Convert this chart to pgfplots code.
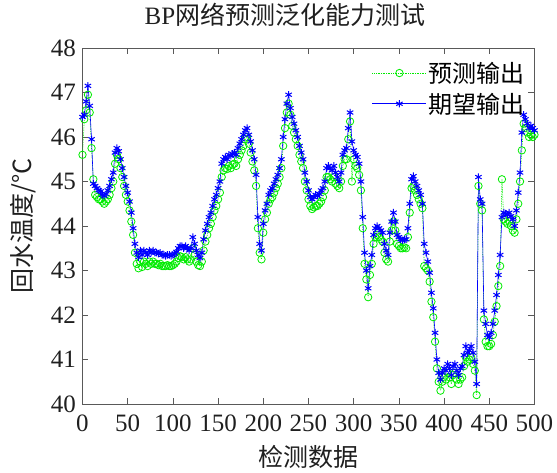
\documentclass[border=0pt]{standalone}
\usepackage{fontspec}
\setmainfont{Liberation Serif}
\newfontfamily\cjk{Noto Sans CJK SC}
\usepackage{pgfplots}
\pgfplotsset{compat=1.18}
\definecolor{predcol}{RGB}{0,235,0}
\definecolor{realcol}{RGB}{0,0,255}
\pgfplotsset{
  predleg/.style={legend image code/.code={%
    \draw[predcol, densely dotted, line width=0.7pt, mark=o, mark size=3.7pt,
          mark options={solid, line width=0.8pt, draw=predcol}, mark repeat=2, mark phase=2]
        plot coordinates {(0pt,0pt) (27pt,0pt) (54pt,0pt)};}},
  realleg/.style={legend image code/.code={%
    \draw[realcol, line width=0.6pt, mark=asterisk, mark size=3.7pt,
          mark options={line width=1pt, draw=realcol}, mark repeat=2, mark phase=2]
        plot coordinates {(0pt,0pt) (27pt,0pt) (54pt,0pt)};}}}
\begin{document}
\begin{tikzpicture}
\begin{axis}[
    scale only axis, width=452pt, height=356pt,
    xmin=0, xmax=500, ymin=40, ymax=48,
    xtick={0,50,...,500}, ytick={40,41,...,48},
    tick align=inside, major tick length=6pt,
    axis line style={black!65}, tick style={black!65, line width=0.6pt},
    every tick label/.append style={font=\fontsize{25}{28}\selectfont, text=black!88},
    xticklabel style={yshift=-7pt},
    yticklabel style={xshift=-3pt},
    /pgf/number format/assume math mode=true,
    title={BP{\cjk 网络预测泛化能力测试}},
    title style={font=\fontsize{25}{28}\selectfont, text=black!88,
                 at={(axis description cs:0.448,1.077)}, anchor=center},
    xlabel={\cjk 检测数据}, ylabel={\cjk 回水温度/°C},
    label style={font=\fontsize{25}{28}\selectfont, text=black!88},
    xlabel style={at={(axis description cs:0.5,-0.148)}, anchor=center},
    ylabel style={at={(axis description cs:-0.132,0.5)}, anchor=center},
    legend style={draw=none, fill=none, at={(0.99,0.972)}, anchor=north east,
                  font=\cjk\fontsize{24}{27}\selectfont, row sep=5pt},
    legend cell align=left,
]
\addplot[predcol, densely dotted, line width=0.7pt, mark=o, mark size=3.7pt,
    mark options={solid, line width=0.8pt}, predleg]
coordinates {
(0,45.6)(2,46.4)(4,46.6)(6,46.95)(8,46.55)(10,45.75)(12,45.05)(14,44.7)(16,44.65)(18,44.6)
(20,44.6)(22,44.55)(24,44.5)(26,44.55)(28,44.6)(30,44.7)(32,44.85)(34,45.0)(36,45.4)(38,45.6)
(40,45.5)(42,45.3)(44,45.1)(46,44.9)(48,44.7)(50,44.55)(52,44.35)(54,44.1)(56,43.8)(58,43.4)
(60,43.15)(62,43.05)(64,43.2)(66,43.08)(68,43.2)(70,43.15)(72,43.1)(74,43.2)(76,43.15)(78,43.2)
(80,43.15)(82,43.15)(84,43.12)(86,43.15)(88,43.1)(90,43.1)(92,43.1)(94,43.12)(96,43.1)(98,43.1)
(100,43.12)(102,43.15)(104,43.2)(106,43.28)(108,43.32)(110,43.3)(112,43.25)(114,43.3)(116,43.25)(118,43.2)
(120,43.25)(122,43.5)(124,43.35)(126,43.2)(128,43.12)(130,43.1)(132,43.2)(134,43.45)(136,43.65)(138,43.8)
(140,43.95)(142,44.05)(144,44.2)(146,44.35)(148,44.45)(150,44.6)(152,44.75)(154,45.1)(156,45.25)(158,45.3)
(160,45.28)(162,45.35)(164,45.3)(166,45.38)(168,45.4)(170,45.35)(172,45.5)(174,45.6)(176,45.7)(178,45.8)
(180,45.95)(182,46.0)(184,45.85)(186,45.65)(188,45.45)(190,45.25)(192,44.9)(194,43.95)(196,43.4)(198,43.25)
(200,43.85)(202,44.15)(204,44.3)(206,44.5)(208,44.6)(210,44.65)(212,44.75)(214,44.85)(216,44.95)(218,45.1)
(220,45.3)(222,45.8)(224,46.2)(226,46.55)(228,46.75)(230,46.5)(232,46.25)(234,46.1)(236,45.95)(238,45.8)
(240,45.6)(242,45.45)(244,45.3)(246,45.0)(248,44.8)(250,44.6)(252,44.45)(254,44.38)(256,44.42)(258,44.45)
(260,44.45)(262,44.5)(264,44.55)(266,44.65)(268,44.8)(270,45.1)(272,45.1)(274,45.05)(276,45.0)(278,45.1)
(280,44.95)(282,44.9)(284,44.85)(286,45.0)(288,45.35)(290,45.5)(292,45.5)(294,45.95)(296,46.35)(298,45.0)
(300,45.5)(302,45.35)(304,45.3)(306,45.15)(308,44.8)(310,43.95)(312,43.15)(314,42.8)(316,42.4)(318,42.9)
(320,43.15)(322,43.6)(324,43.75)(326,43.8)(328,43.75)(330,43.7)(332,43.65)(334,43.4)(336,43.25)(338,43.2)
(340,43.65)(342,43.9)(344,44.1)(346,43.9)(348,43.6)(350,43.55)(352,43.5)(354,43.5)(356,43.52)(358,43.5)
(360,43.75)(362,44.3)(364,44.85)(366,44.9)(368,44.8)(370,44.7)(372,44.6)(374,44.5)(376,44.4)(378,43.1)
(380,43.05)(382,43.0)(384,42.75)(386,42.3)(388,41.95)(390,41.4)(392,40.8)(394,40.5)(396,40.3)(398,40.5)
(400,40.6)(402,40.55)(404,40.7)(406,40.6)(408,40.45)(410,40.65)(412,40.7)(414,40.55)(416,40.45)(418,40.55)
(420,40.6)(422,40.85)(424,41.05)(426,40.95)(428,41.0)(430,41.05)(432,40.9)(434,40.75)(436,40.2)(438,44.9)
(440,44.5)(442,44.35)(444,41.9)(446,41.4)(448,41.3)(450,41.3)(452,41.35)(454,41.55)(456,41.85)(458,42.2)
(460,42.65)(462,43.1)(464,45.05)(466,44.15)(468,44.1)(470,44.05)(472,44.1)(474,44.0)(476,43.9)(478,43.85)
(480,44.15)(482,44.5)(484,45.0)(486,45.7)(488,46.3)(490,46.2)(492,46.1)(494,46.0)(496,46.05)(498,46.0)
(500,46.05)
};
\addlegendentry{预测输出}
\addplot[realcol, line width=0.6pt, mark=asterisk, mark size=3.7pt,
    mark options={line width=1pt}, realleg]
coordinates {
(0,46.45)(2,46.5)(4,46.8)(6,47.15)(8,46.7)(10,45.95)(12,44.95)(14,44.9)(16,44.85)(18,44.8)
(20,44.78)(22,44.7)(24,44.68)(26,44.72)(28,44.8)(30,44.9)(32,45.05)(34,45.2)(36,45.65)(38,45.75)
(40,45.68)(42,45.5)(44,45.3)(46,45.1)(48,44.9)(50,44.75)(52,44.55)(54,44.3)(56,43.95)(58,43.6)
(60,43.4)(62,43.3)(64,43.45)(66,43.35)(68,43.45)(70,43.4)(72,43.35)(74,43.45)(76,43.4)(78,43.45)
(80,43.4)(82,43.4)(84,43.38)(86,43.4)(88,43.35)(90,43.35)(92,43.33)(94,43.35)(96,43.35)(98,43.33)
(100,43.35)(102,43.38)(104,43.42)(106,43.5)(108,43.55)(110,43.55)(112,43.5)(114,43.55)(116,43.5)(118,43.45)
(120,43.5)(122,43.75)(124,43.6)(126,43.45)(128,43.35)(130,43.28)(132,43.4)(134,43.7)(136,43.9)(138,44.05)
(140,44.2)(142,44.3)(144,44.45)(146,44.6)(148,44.7)(150,44.85)(152,45.0)(154,45.4)(156,45.5)(158,45.55)
(160,45.5)(162,45.6)(164,45.58)(166,45.62)(168,45.65)(170,45.6)(172,45.75)(174,45.85)(176,45.95)(178,46.05)
(180,46.15)(182,46.2)(184,46.05)(186,45.9)(188,45.7)(190,45.5)(192,45.15)(194,44.2)(196,43.6)(198,43.45)
(200,44.05)(202,44.35)(204,44.5)(206,44.7)(208,44.8)(210,44.85)(212,44.95)(214,45.05)(216,45.15)(218,45.3)
(220,45.5)(222,46.0)(224,46.4)(226,46.75)(228,46.95)(230,46.65)(232,46.45)(234,46.3)(236,46.15)(238,46.0)
(240,45.8)(242,45.65)(244,45.5)(246,45.2)(248,45.0)(250,44.8)(252,44.65)(254,44.6)(256,44.65)(258,44.7)
(260,44.68)(262,44.72)(264,44.8)(266,44.85)(268,45.0)(270,45.3)(272,45.35)(274,45.3)(276,45.25)(278,45.35)
(280,45.2)(282,45.1)(284,45.0)(286,45.2)(288,45.6)(290,45.7)(292,45.75)(294,46.2)(296,46.55)(298,45.9)
(300,45.7)(302,45.6)(304,45.55)(306,45.4)(308,45.0)(310,44.2)(312,43.4)(314,43.0)(316,42.6)(318,43.1)
(320,43.35)(322,43.8)(324,43.95)(326,44.0)(328,43.95)(330,43.9)(332,43.85)(334,43.6)(336,43.45)(338,43.35)
(340,43.85)(342,44.1)(344,44.3)(346,44.1)(348,43.8)(350,43.75)(352,43.7)(354,43.68)(356,43.7)(358,43.7)
(360,43.95)(362,44.5)(364,45.05)(366,45.12)(368,45.0)(370,44.9)(372,44.8)(374,44.7)(376,44.5)(378,43.6)
(380,43.4)(382,43.2)(384,42.95)(386,42.5)(388,42.15)(390,41.6)(392,41.0)(394,40.7)(396,40.55)(398,40.7)
(400,40.8)(402,40.75)(404,40.9)(406,40.8)(408,40.65)(410,40.85)(412,40.9)(414,40.75)(416,40.65)(418,40.8)
(420,40.85)(422,41.1)(424,41.3)(426,41.15)(428,41.2)(430,41.3)(432,41.15)(434,40.95)(436,40.45)(438,45.1)
(440,44.6)(442,44.5)(444,42.1)(446,41.8)(448,41.55)(450,41.5)(452,41.6)(454,41.8)(456,42.1)(458,42.45)
(460,42.9)(462,43.35)(464,44.2)(466,44.3)(468,44.28)(470,44.25)(472,44.3)(474,44.22)(476,44.15)(478,44.0)
(480,44.35)(482,44.75)(484,45.2)(486,46.1)(488,46.5)(490,46.4)(492,46.3)(494,46.2)(496,46.25)(498,46.2)
(500,46.15)
};
\addlegendentry{期望输出}
\end{axis}
\pgfresetboundingbox
\path (-82.5pt,-68pt) rectangle (474.5pt,404pt);
\end{tikzpicture}
\end{document}
